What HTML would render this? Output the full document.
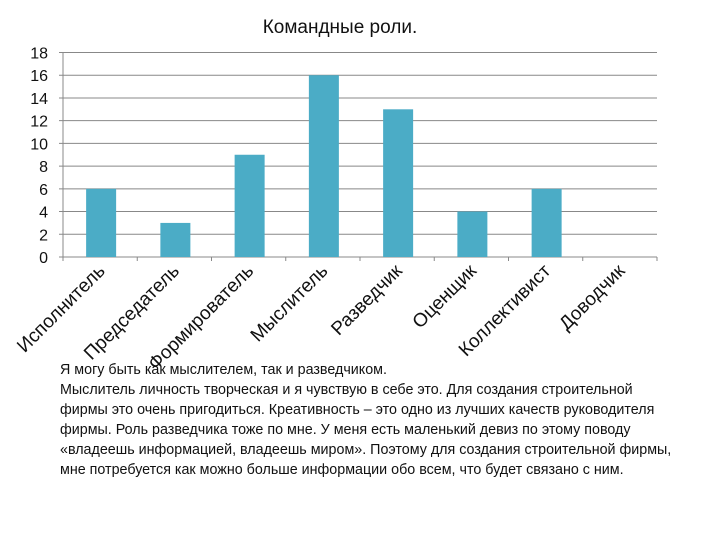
<!DOCTYPE html>
<html><head><meta charset="utf-8"><style>
body{margin:0;width:720px;height:540px;background:#fff;font-family:"Liberation Sans","Noto Sans CJK SC",sans-serif;position:relative;overflow:hidden}
#note{position:absolute;left:60px;top:360px;font-size:14.3px;line-height:20px;color:#111;white-space:nowrap}
</style></head><body>
<svg id="chart" width="720" height="540" style="position:absolute;left:0;top:0" xmlns="http://www.w3.org/2000/svg"></svg>
<div id="note">Я могу быть как мыслителем, так и разведчиком.<br>Мыслитель личность творческая и я чувствую в себе это. Для создания строительной<br>фирмы это очень пригодиться. Креативность – это одно из лучших качеств руководителя<br>фирмы. Роль разведчика тоже по мне. У меня есть маленький девиз по этому поводу<br>«владеешь информацией, владеешь миром». Поэтому для создания строительной фирмы,<br>мне потребуется как можно больше информации обо всем, что будет связано с ним.</div>
<script>
const categories=["Исполнитель","Председатель","Формирователь","Мыслитель","Разведчик","Оценщик","Коллективист","Доводчик"];
const values=[6,3,9,16,13,4,6,0];
const yTicks=[0,2,4,6,8,10,12,14,16,18];
const svg=document.getElementById('chart');
const NS='http://www.w3.org/2000/svg';
const x0=63,x1=657,yTop=52.5,yBot=257,yMax=18;
const cw=(x1-x0)/categories.length;
const ys=v=>yBot-(v/yMax)*(yBot-yTop);
function mk(t,a){const e=document.createElementNS(NS,t);for(const k in a)e.setAttribute(k,a[k]);svg.appendChild(e);return e;}
const title=mk('text',{x:340,y:33,'text-anchor':'middle','font-size':19,fill:'#111'});
title.textContent='Командные роли.';


yTicks.forEach(v=>{
 const g=mk('line',{x1:x0-4,x2:x1,y1:ys(v),y2:ys(v),stroke:'#888','stroke-width':1});
 
 
 const t=mk('text',{x:48,y:ys(v)+6,'text-anchor':'end','font-size':16,fill:'#111'});
 t.textContent=v;
 
 
});
const ax=mk('line',{x1:x0,x2:x0,y1:yTop,y2:yBot,stroke:'#888'});


for(let i=0;i<=categories.length;i++){
 const tk=mk('line',{x1:x0+i*cw,x2:x0+i*cw,y1:yBot,y2:yBot+4,stroke:'#888'});
 
 
}
categories.forEach((c,i)=>{
 const cx=x0+cw*(i+0.5);
 const b=mk('rect',{x:cx-14,y:ys(values[i]),width:30,height:yBot-ys(values[i]),fill:'#4bacc6'});
 
 
 const t=mk('text',{x:cx+6,y:yBot+15,'text-anchor':'end','font-size':19,fill:'#111',transform:`rotate(-45 ${cx+6} ${yBot+15})`});
 t.textContent=c;
 
 
});
</script>
</body></html>
